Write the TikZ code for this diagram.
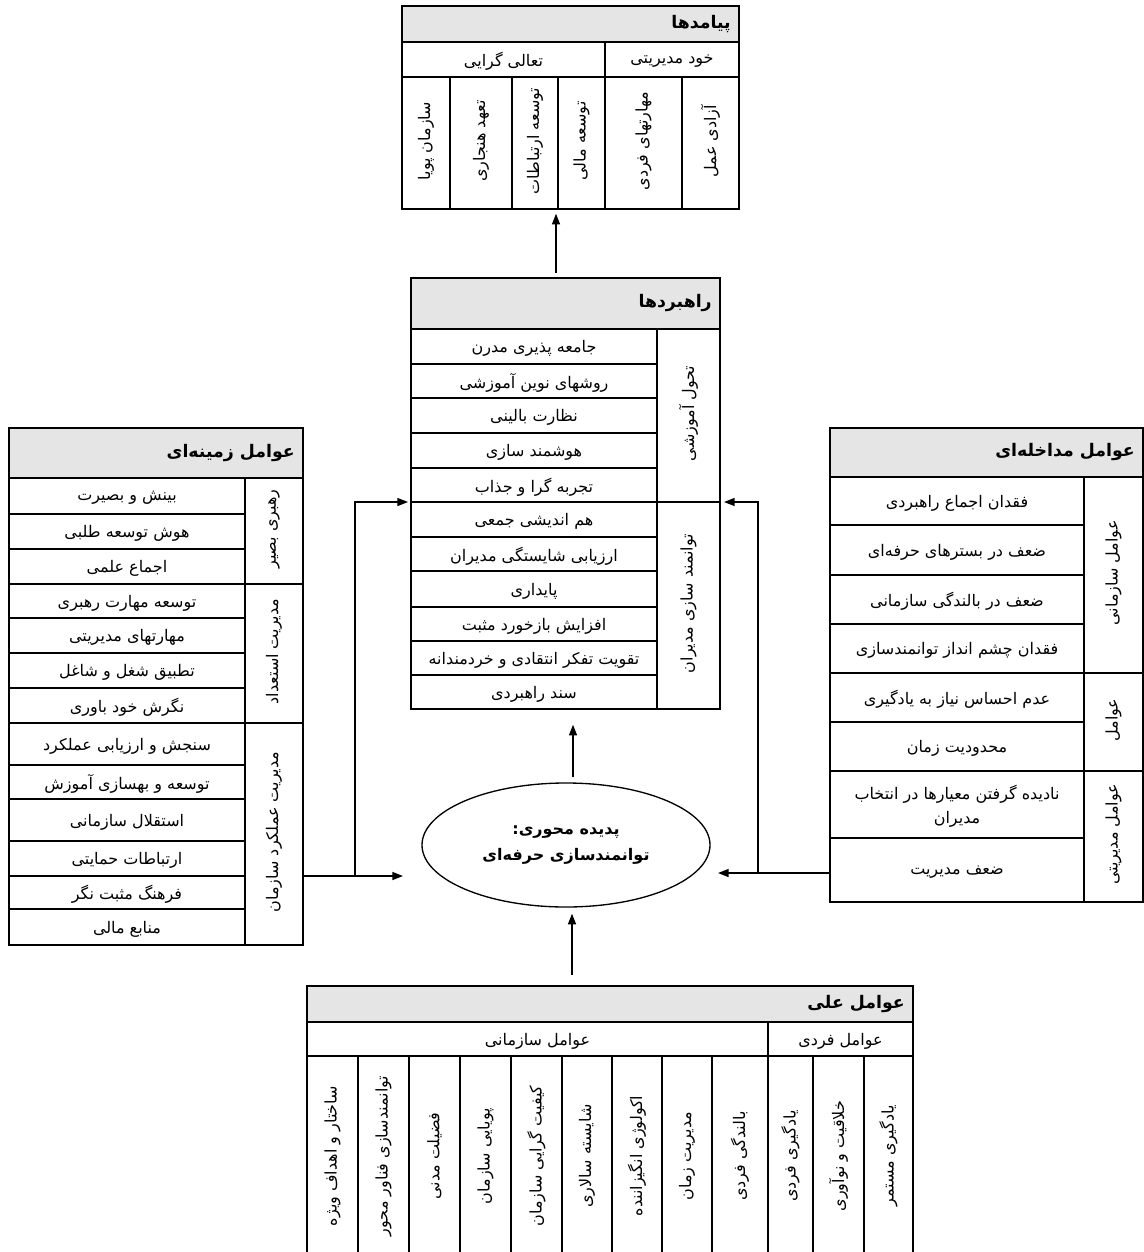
\documentclass[tikz,border=0pt]{standalone}
\usepackage{fontspec}
\usetikzlibrary{arrows.meta,shapes.geometric,calc,fit}
\newfontfamily\arabicfont[Script=Arabic]{DejaVu Sans}
\TeXXeTstate=1
\newcommand\fa[1]{{\arabicfont\beginR #1\endR}}
\tikzset{
  box/.style={draw, line width=0.9pt},
  hdr/.style={draw, line width=0.9pt, fill=black!10},
  txt/.style={font=\fontsize{12}{16}\selectfont, inner sep=1pt, yshift=-1.5pt},
  vtxt/.style={font=\fontsize{12}{16}\selectfont, inner sep=1pt, rotate=90, xshift=1.5pt},
  htxt/.style={font=\fontsize{13}{15}\selectfont\bfseries, anchor=east, inner sep=0pt},
  arr/.style={line width=1.1pt, -{Triangle[length=8pt,width=6pt]}},
  outer/.style={draw, line width=1.1pt, inner sep=0pt},
}
\newcommand\Cell[7][txt]{%
  \draw[box] (#3,#4) rectangle (#5,#6);
  \node[#1] (#2) at ($(#3,#4)!0.5!(#5,#6)$) {#7};}
\newcommand\Hdr[6]{%
  \draw[hdr] (#2,#3) rectangle (#4,#5);
  \node[htxt] (#1) at ($(#4,#3)!0.5!(#4,#5)+(-8,0)$) {#6};}
\begin{document}
\begin{tikzpicture}[x=0.75pt,y=-0.75pt]
\useasboundingbox (0,0) rectangle (1144,1252);
% ---------------- top box: outcomes
\Hdr{outh}{402}{6}{739}{42}{\fa{پیامدها}}
\Cell{o21}{402}{42}{605}{77}{\fa{تعالی گرایی}}
\Cell{o22}{605}{42}{739}{77}{\fa{خود مدیریتی}}
\Cell[vtxt]{o1}{402}{77}{450}{209}{\fa{سازمان پویا}}
\Cell[vtxt]{o2}{450}{77}{512}{209}{\fa{تعهد هنجاری}}
\Cell[vtxt]{o3}{512}{77}{558}{209}{\fa{توسعه ارتباطات}}
\Cell[vtxt]{o4}{558}{77}{605}{209}{\fa{توسعه مالی}}
\Cell[vtxt]{o5}{605}{77}{682}{209}{\fa{مهارتهای فردی}}
\Cell[vtxt]{o6}{682}{77}{739}{209}{\fa{آزادی عمل}}
\node[outer, fit={(402,6) (739,209)}] (out) {};
% ---------------- strategies
\Hdr{sth}{411}{278}{720}{329}{\fa{راهبردها}}
\Cell{s1}{411}{329}{657}{364}{\fa{جامعه پذیری مدرن}}
\Cell{s2}{411}{364}{657}{398}{\fa{روشهای نوین آموزشی}}
\Cell{s3}{411}{398}{657}{433}{\fa{نظارت بالینی}}
\Cell{s4}{411}{433}{657}{468}{\fa{هوشمند سازی}}
\Cell{s5}{411}{468}{657}{502}{\fa{تجربه گرا و جذاب}}
\Cell{s6}{411}{502}{657}{537}{\fa{هم اندیشی جمعی}}
\Cell{s7}{411}{537}{657}{571}{\fa{ارزیابی شایستگی مدیران}}
\Cell{s8}{411}{571}{657}{607}{\fa{پایداری}}
\Cell{s9}{411}{607}{657}{641}{\fa{افزایش بازخورد مثبت}}
\Cell{s10}{411}{641}{657}{675}{\fa{تقویت تفکر انتقادی و خردمندانه}}
\Cell{s11}{411}{675}{657}{709}{\fa{سند راهبردی}}
\Cell[vtxt]{sg1}{657}{329}{720}{502}{\fa{تحول آموزشی}}
\Cell[vtxt]{sg2}{657}{502}{720}{709}{\fa{توانمند سازی مدیران}}
\node[outer, fit={(411,278) (720,709)}] (strat) {};
% ---------------- contextual factors (left)
\Hdr{zh}{9}{428}{303}{478}{\fa{عوامل زمینه‌ای}}
\Cell{z1}{9}{478}{245}{514}{\fa{بینش و بصیرت}}
\Cell{z2}{9}{514}{245}{549}{\fa{هوش توسعه طلبی}}
\Cell{z3}{9}{549}{245}{584}{\fa{اجماع علمی}}
\Cell{z4}{9}{584}{245}{618}{\fa{توسعه مهارت رهبری}}
\Cell{z5}{9}{618}{245}{653}{\fa{مهارتهای مدیریتی}}
\Cell{z6}{9}{653}{245}{688}{\fa{تطبیق شغل و شاغل}}
\Cell{z7}{9}{688}{245}{723}{\fa{نگرش خود باوری}}
\Cell{z8}{9}{723}{245}{765}{\fa{سنجش و ارزیابی عملکرد}}
\Cell{z9}{9}{765}{245}{799}{\fa{توسعه و بهسازی آموزش}}
\Cell{z10}{9}{799}{245}{841}{\fa{استقلال سازمانی}}
\Cell{z11}{9}{841}{245}{876}{\fa{ارتباطات حمایتی}}
\Cell{z12}{9}{876}{245}{909}{\fa{فرهنگ مثبت نگر}}
\Cell{z13}{9}{909}{245}{945}{\fa{منابع مالی}}
\Cell[vtxt]{zg1}{245}{478}{303}{584}{\fa{رهبری بصیر}}
\Cell[vtxt]{zg2}{245}{584}{303}{723}{\fa{مدیریت استعداد}}
\Cell[vtxt]{zg3}{245}{723}{303}{945}{\fa{مدیریت عملکرد سازمان}}
\node[outer, fit={(9,428) (303,945)}] (zam) {};
% ---------------- intervening factors (right)
\Hdr{mh}{830}{428}{1143}{477}{\fa{عوامل مداخله‌ای}}
\Cell{m1}{830}{477}{1084}{525}{\fa{فقدان اجماع راهبردی}}
\Cell{m2}{830}{525}{1084}{575}{\fa{ضعف در بسترهای حرفه‌ای}}
\Cell{m3}{830}{575}{1084}{624}{\fa{ضعف در بالندگی سازمانی}}
\Cell{m4}{830}{624}{1084}{673}{\fa{فقدان چشم انداز توانمندسازی}}
\Cell{m5}{830}{673}{1084}{722}{\fa{عدم احساس نیاز به یادگیری}}
\Cell{m6}{830}{722}{1084}{771}{\fa{محدودیت زمان}}
\Cell[txt,align=center]{m7}{830}{771}{1084}{838}{\fa{نادیده گرفتن معیارها در انتخاب}\\[2pt]\fa{مدیران}}
\Cell{m8}{830}{838}{1084}{902}{\fa{ضعف مدیریت}}
\Cell[vtxt]{mg1}{1084}{477}{1143}{673}{\fa{عوامل سازمانی}}
\Cell[vtxt]{mg2}{1084}{673}{1143}{771}{\fa{عوامل}}
\Cell[vtxt]{mg3}{1084}{771}{1143}{902}{\fa{عوامل مدیریتی}}
\node[outer, fit={(830,428) (1143,902)}] (mod) {};
% ---------------- causal factors (bottom)
\Hdr{ah}{307}{986}{913}{1022}{\fa{عوامل علی}}
\Cell{a21}{307}{1022}{768}{1056}{\fa{عوامل سازمانی}}
\Cell{a22}{768}{1022}{913}{1056}{\fa{عوامل فردی}}
\Cell[vtxt]{a1}{307}{1056}{358}{1260}{\fa{ساختار و اهداف ویژه}}
\Cell[vtxt]{a2}{358}{1056}{409}{1260}{\fa{توانمندسازی فناور محور}}
\Cell[vtxt]{a3}{409}{1056}{460}{1260}{\fa{فضیلت مدنی}}
\Cell[vtxt]{a4}{460}{1056}{511}{1260}{\fa{پویایی سازمان}}
\Cell[vtxt]{a5}{511}{1056}{562}{1260}{\fa{کیفیت گرایی سازمان}}
\Cell[vtxt]{a6}{562}{1056}{612}{1260}{\fa{شایسته سالاری}}
\Cell[vtxt]{a7}{612}{1056}{662}{1260}{\fa{اکولوژی انگیزاننده}}
\Cell[vtxt]{a8}{662}{1056}{712}{1260}{\fa{مدیریت زمان}}
\Cell[vtxt]{a9}{712}{1056}{768}{1260}{\fa{بالندگی فردی}}
\Cell[vtxt]{a10}{768}{1056}{813}{1260}{\fa{یادگیری فردی}}
\Cell[vtxt]{a11}{813}{1056}{864}{1260}{\fa{خلاقیت و نوآوری}}
\Cell[vtxt]{a12}{864}{1056}{913}{1260}{\fa{یادگیری مستمر}}
\node[outer, fit={(307,986) (913,1260)}] (ali) {};
% ---------------- core phenomenon
\node[draw, ellipse, line width=1pt, minimum width=216pt, minimum height=93pt,
      inner sep=0pt, align=center, font=\fontsize{12}{17}\selectfont\bfseries] (core)
      at (566,845) {\fa{پدیده محوری:}\\[3pt]\fa{توانمندسازی حرفه‌ای}};
% ---------------- connectors
\coordinate (c1) at (556,273);
\draw[arr] (c1) -- ($(out.south -| c1)+(0,4)$);
\coordinate (c2) at (573,777);
\draw[arr] (c2) -- ($(strat.south -| c2)+(0,15)$);
\coordinate (c3) at (572,975);
\draw[arr] (c3) -- ($(core.south -| c3)+(0,6)$);
\coordinate (lj) at (355,876);
\coordinate (ltip) at (403,876);
\coordinate (lt2) at (408,502);
\draw[arr] (zam.east |- lj) -- (ltip);
\draw[arr] (lj) |- (lt2);
\coordinate (rj) at (758,873);
\coordinate (rtip) at (718,873);
\coordinate (rt2) at (724,502);
\draw[arr] (mod.west |- rj) -- (rtip);
\draw[arr] (rj) |- (rt2);
\end{tikzpicture}
\end{document}
